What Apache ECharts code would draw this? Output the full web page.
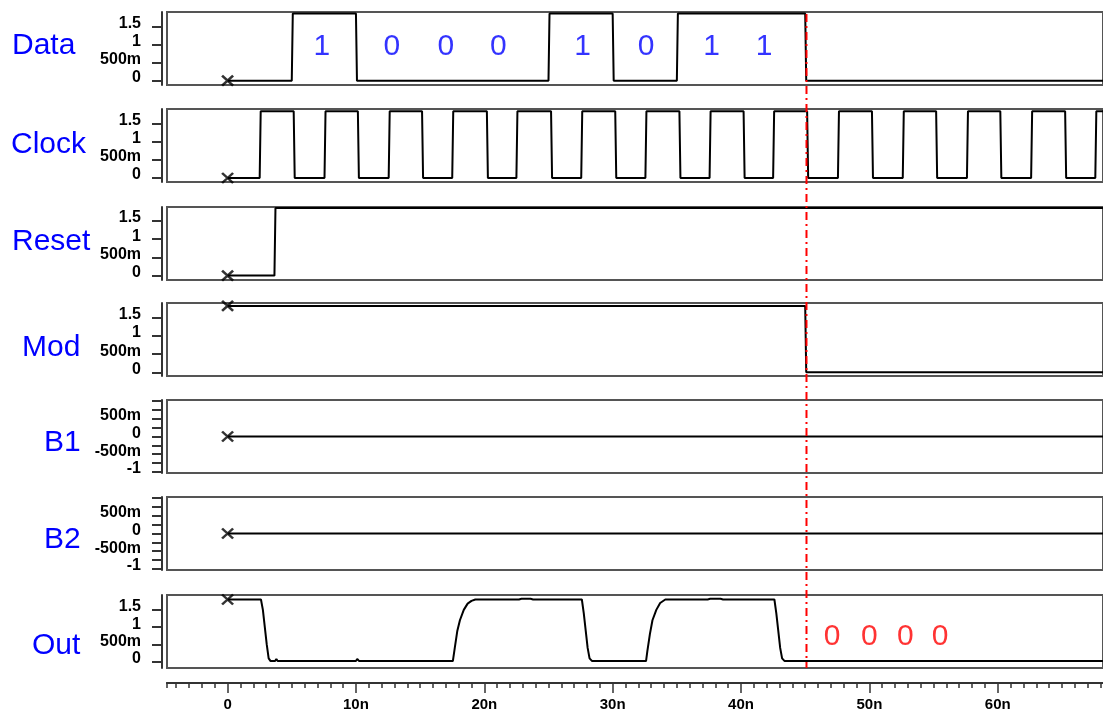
<!DOCTYPE html>
<html>
<head>
<meta charset="utf-8">
<script src="https://cdn.jsdelivr.net/npm/echarts@6/dist/echarts.min.js"></script>
<style>
html, body { margin: 0; padding: 0; background: #fff; }
#main { width: 1103px; height: 715px; }
</style>
</head>
<body>
<div id="main"></div>
<script>
// time axis in ns, levels in volts
const timeMin = -4.72
const timeMax = 68.2
const markerTime = 45.1

const signalNames = ['Data', 'Clock', 'Reset', 'Mod', 'B1', 'B2', 'Out']

// digital signals: start level + edge times
const dataStartHigh = false
const dataHigh = 1.86
const dataEdges = [5, 10, 25, 30, 35, 45]

const clockStartHigh = false
const clockHigh = 1.84
const clockEdges = [2.5, 5.15, 7.55, 10.15, 12.55, 15.15, 17.5, 20.2, 22.5, 25.2,
  27.55, 30.2, 32.55, 35.2, 37.55, 40.2, 42.5, 45.15, 47.55, 50.2, 52.6, 55.2,
  57.6, 60.2, 62.6, 65.25, 67.6]

const resetStartHigh = false
const resetHigh = 1.85
const resetEdges = [3.65]

const modStartHigh = true
const modHigh = 1.82
const modEdges = [45]

const b1Times = [0, 68.2]
const b1Volts = [0, 0]
const b2Times = [0, 68.2]
const b2Volts = [0, 0]

// analog output
const outTimes = [0, 2.6, 2.75, 2.9, 3.05, 3.2, 3.35, 3.7, 3.8, 3.9, 5.0, 5.05, 5.1,
  10.0, 10.1, 10.25, 17.55, 17.7, 17.9, 18.1, 18.4, 18.7, 19.0, 19.3, 22.7, 22.9,
  23.6, 23.8, 25.0, 25.05, 25.1, 27.6, 27.75, 27.9, 28.05, 28.2, 28.4, 30.1, 30.2,
  30.3, 32.6, 32.7, 32.9, 33.1, 33.4, 33.7, 34.1, 37.4, 37.6, 38.4, 38.6, 42.6,
  42.75, 42.9, 43.05, 43.2, 43.4, 45.0, 45.05, 45.15, 47.8, 47.85, 47.95, 68.2]
const outVolts = [1.8, 1.8, 1.5, 1.0, 0.5, 0.1, 0.02, 0.02, 0.08, 0.02, 0.02, 0.05, 0.02,
  0.02, 0.08, 0.02, 0.02, 0.4, 0.9, 1.2, 1.5, 1.68, 1.76, 1.8, 1.8, 1.82,
  1.82, 1.8, 1.8, 1.82, 1.8, 1.8, 1.4, 0.9, 0.4, 0.1, 0.02, 0.02, 0.07,
  0.02, 0.02, 0.3, 0.8, 1.2, 1.5, 1.7, 1.8, 1.8, 1.82, 1.82, 1.8, 1.8,
  1.4, 0.9, 0.4, 0.1, 0.02, 0.02, 0.06, 0.02, 0.02, -0.01, 0.02, 0.02]

// annotations
const dataBits = ['1', '0', '0', '0', '1', '0', '1', '1']
const dataBitTimes = [7.35, 12.8, 17.0, 21.1, 27.65, 32.6, 37.7, 41.8]
const dataBitLevel = 0.93
const outBits = ['0', '0', '0', '0']
const outBitTimes = [47.1, 50.0, 52.8, 55.5]
const outBitLevel = 0.72

// y ticks
const levelTicks = [0, 0.5, 1, 1.5]
const levelLabels = [0, 0.5, 1, 1.5]
const bTicks = [-1, -0.75, -0.5, -0.25, 0, 0.25, 0.5, 0.75, 1]
const bLabels = [-1, -0.5, 0, 0.5]
const rulerMajor = [0, 10, 20, 30, 40, 50, 60]
const rulerLabels = ['0', '10n', '20n', '30n', '40n', '50n', '60n']

const font = "'Liberation Sans', Arial, sans-serif"
const panelTops = [12, 109, 207, 303, 400, 497, 595]
const panelHeight = 73
const labelPos = [[12, 44], [11, 143], [12, 240], [22, 346], [44, 441], [44, 538], [32, 644]]

function stepWave(startHigh, high, edges) {
  let level = startHigh ? high : 0
  const pts = [[0, level]]
  edges.forEach((e) => {
    pts.push([e, level])
    level = level ? 0 : high
    pts.push([e + 0.08, level])
  })
  pts.push([timeMax, level])
  return pts
}

function pairs(times, volts) {
  return times.map((t, i) => [t, volts[i]])
}

const waves = [
  stepWave(dataStartHigh, dataHigh, dataEdges),
  stepWave(clockStartHigh, clockHigh, clockEdges),
  stepWave(resetStartHigh, resetHigh, resetEdges),
  stepWave(modStartHigh, modHigh, modEdges),
  pairs(b1Times, b1Volts),
  pairs(b2Times, b2Volts),
  pairs(outTimes, outVolts),
]

const yRanges = [[-0.12, 1.9], [-0.11, 1.9], [-0.12, 1.88], [-0.1, 1.9],
  [-1.03, 1.03], [-1.03, 1.03], [-0.18, 1.93]]

function fmtVolt(v) {
  if (v === 0) return '0'
  if (Math.abs(v) < 1) return Math.round(v * 1000) + 'm'
  return String(v)
}

const crossPath = 'path://M0,0L10,10M10,0L0,10'

const grid = []
const xAxis = []
const yAxis = []
const series = []

signalNames.forEach((name, i) => {
  const isB = i === 4 || i === 5
  grid.push({
    left: 167, width: 940, top: panelTops[i], height: panelHeight,
    show: true, borderColor: '#555', borderWidth: 2, backgroundColor: '#fff',
  })
  xAxis.push({
    type: 'value', gridIndex: i, min: timeMin, max: timeMax, show: false,
  })
  yAxis.push({
    type: 'value', gridIndex: i, min: yRanges[i][0], max: yRanges[i][1],
    position: 'left', offset: 5,
    splitLine: { show: false },
    axisLine: { show: true, onZero: false, lineStyle: { color: '#333', width: 2 } },
    axisTick: { show: true, length: 10, customValues: isB ? bTicks : levelTicks,
      lineStyle: { color: '#333', width: 2 } },
    axisLabel: {
      customValues: isB ? bLabels : levelLabels,
      formatter: fmtVolt, margin: 21, verticalAlign: 'bottom',
      fontFamily: font, fontWeight: 'bold', fontSize: 16, color: '#000',
      lineHeight: 6,
    },
  })
  series.push({
    type: 'line', xAxisIndex: i, yAxisIndex: i, data: waves[i],
    symbol: 'none', lineStyle: { color: '#000', width: 2 },
  })
  series.push({
    type: 'scatter', xAxisIndex: i, yAxisIndex: i, data: [waves[i][0]],
    symbol: crossPath, symbolSize: [11, 10],
    itemStyle: { color: 'none', borderColor: '#000', borderWidth: 2.5 },
  })
})

// bit annotations
series.push({
  type: 'scatter', xAxisIndex: 0, yAxisIndex: 0, symbolSize: 0,
  data: dataBitTimes.map((t, i) => ({ value: [t, dataBitLevel], name: dataBits[i] })),
  label: { show: true, position: 'inside', formatter: '{b}', color: '#0000ff',
    fontFamily: font, fontSize: 30 },
})
series.push({
  type: 'scatter', xAxisIndex: 6, yAxisIndex: 6, symbolSize: 0,
  data: outBitTimes.map((t, i) => ({ value: [t, outBitLevel], name: outBits[i] })),
  label: { show: true, position: 'inside', formatter: '{b}', color: '#ff0000',
    fontFamily: font, fontSize: 30 },
})

// time ruler: minor ticks grid + major ticks grid
const minorTicks = [timeMin]
for (let t = -4; t <= 68; t++) minorTicks.push(t)
;[7, 8].forEach((gi) => {
  grid.push({ left: 167, width: 940, top: 682, height: 1 })
  yAxis.push({ type: 'value', gridIndex: gi, show: false })
  xAxis.push({
    type: 'value', gridIndex: gi, min: timeMin, max: timeMax, position: 'bottom',
    splitLine: { show: false },
    axisLine: { show: true, onZero: false, lineStyle: { color: '#333', width: 2 } },
    axisTick: gi === 7
      ? { show: true, length: 5, customValues: minorTicks, lineStyle: { color: '#333', width: 1.5 } }
      : { show: true, length: 10, customValues: rulerMajor, lineStyle: { color: '#333', width: 1.5 } },
    axisLabel: gi === 7 ? { show: false } : {
      customValues: rulerMajor,
      formatter: (v) => rulerLabels[rulerMajor.indexOf(v)],
      margin: 14, fontFamily: font, fontWeight: 'bold', fontSize: 15, color: '#000',
    },
  })
})

const chart = echarts.init(document.getElementById('main'))
chart.setOption({
  animation: false,
  backgroundColor: '#fff',
  grid, xAxis, yAxis, series,
  graphic: signalNames.map((name, i) => ({
    type: 'text', left: labelPos[i][0], top: labelPos[i][1] - 13,
    style: { text: name, fill: '#0000ff', fontSize: 30, fontFamily: font },
  })),
})

const xm = chart.convertToPixel({ xAxisIndex: 0 }, markerTime)
chart.setOption({
  graphic: signalNames.map(() => ({})).concat([{
    type: 'line', z: 100,
    shape: { x1: xm, y1: 14, x2: xm, y2: 668 },
    style: { stroke: '#ff0000', lineWidth: 2, lineDash: [8, 4, 2, 4] },
  }]),
})
</script>
</body>
</html>
